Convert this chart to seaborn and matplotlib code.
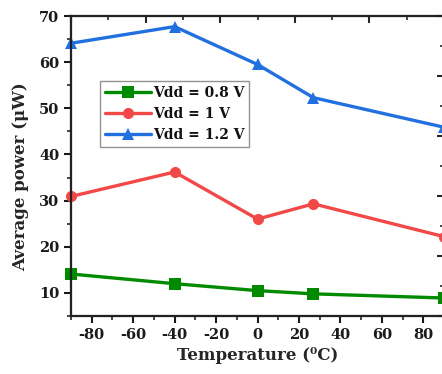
import matplotlib
matplotlib.use("Agg")
import matplotlib.pyplot as plt
from matplotlib.ticker import MultipleLocator
import seaborn as sns
import pandas as pd

# Measured average power versus temperature for three supply voltages
temperature = [-90, -40, 0, 27, 90]
power_08v = [14.1, 12.0, 10.5, 9.8, 8.9]
power_1v = [30.9, 36.2, 26.0, 29.3, 22.2]
power_12v = [64.1, 67.7, 59.5, 52.3, 45.9]

series_labels = ["Vdd = 0.8 V", "Vdd = 1 V", "Vdd = 1.2 V"]
series_colors = ["#008a00", "#f24848", "#2270e0"]
series_markers = ["s", "o", "^"]

x_ticks = [-80, -60, -40, -20, 0, 20, 40, 60, 80]
y_ticks = [10, 20, 30, 40, 50, 60, 70]

df = pd.DataFrame({
    "Temperature": temperature * 3,
    "Power": power_08v + power_1v + power_12v,
    "Series": [s for s in series_labels for _ in temperature],
})

sns.set_theme(style="ticks")
plt.rcParams["font.family"] = ["DejaVu Serif"]
plt.rcParams["font.weight"] = "bold"
plt.rcParams["axes.unicode_minus"] = False

fig = plt.figure(figsize=(4.42, 3.74), dpi=100)
ax = fig.add_axes([71 / 442, 58 / 374, 373 / 442, 300 / 374])

for label, color, marker in zip(series_labels, series_colors, series_markers):
    sub = df[df["Series"] == label]
    sns.lineplot(data=sub, x="Temperature", y="Power", ax=ax, color=color,
                 marker=marker, markersize=8, markeredgewidth=0,
                 linewidth=2.4, label=label, clip_on=False, zorder=3)

ax.set_xlim(-90, 90)
ax.set_ylim(5, 70)
ax.set_xticks(x_ticks)
ax.set_yticks(y_ticks)
ax.xaxis.set_minor_locator(MultipleLocator(10))
ax.yaxis.set_minor_locator(MultipleLocator(5))
ax.tick_params(axis="both", which="major", direction="out", length=5, width=1.5,
               labelsize=10.5, colors="#1a1a1a")
ax.tick_params(axis="both", which="minor", direction="out", length=3, width=1.2)
for lab in ax.get_xticklabels() + ax.get_yticklabels():
    lab.set_fontweight("bold")
for side in ["left", "bottom", "top", "right"]:
    ax.spines[side].set_linewidth(1.5)
    ax.spines[side].set_color("#222222")

ax.set_xlabel("Temperature (\u2070C)", fontsize=12, fontweight="bold", labelpad=4)
ax.set_ylabel("Average power (\u03bcW)", fontsize=12, fontweight="bold")
ax.yaxis.set_label_coords(-0.112, 0.465)

# Companion scales on the top and right edges (inward ticks only)
top = ax.twiny()
top.set_xlim(0, 10)
top.xaxis.set_major_locator(MultipleLocator(2))
top.xaxis.set_minor_locator(MultipleLocator(1))
top.tick_params(axis="x", which="major", direction="in", length=5, width=1.5,
                labeltop=False)
top.tick_params(axis="x", which="minor", direction="in", length=3, width=1.2)
right = ax.twinx()
right.set_ylim(0, 10)
right.yaxis.set_major_locator(MultipleLocator(2))
right.yaxis.set_minor_locator(MultipleLocator(1))
right.tick_params(axis="y", which="major", direction="in", length=5, width=1.5,
                  labelright=False)
right.tick_params(axis="y", which="minor", direction="in", length=3, width=1.2)
for a in (top, right):
    for side in a.spines.values():
        side.set_linewidth(1.5)
        side.set_color("#222222")

leg = ax.legend(loc="upper left", bbox_to_anchor=(29 / 373, 1 - 65 / 300),
                frameon=True, fancybox=False, fontsize=10, handlelength=3.3,
                handletextpad=0.15, borderpad=0.35, labelspacing=0.5,
                borderaxespad=0)
leg.get_frame().set_edgecolor("#777777")
leg.get_frame().set_linewidth(1.0)
for t in leg.get_texts():
    t.set_fontweight("bold")
    t.set_color("#111111")

fig.savefig("out.png", dpi=100)
